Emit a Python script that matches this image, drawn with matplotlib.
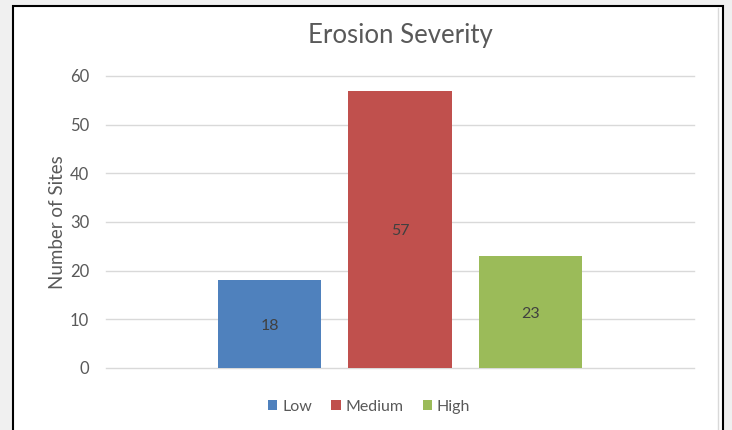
import matplotlib.pyplot as plt
from matplotlib.patches import Rectangle, Patch
from matplotlib.lines import Line2D

categories = ['Low', 'Medium', 'High']
sites = [18, 57, 23]
colors = ['#4F81BD', '#C0504D', '#9BBB59']
yticks = [0, 10, 20, 30, 40, 50, 60]

plt.rcParams['font.family'] = ['Lato', 'DejaVu Sans']

fig = plt.figure(figsize=(7.32, 4.30), dpi=100)
fig.patch.set_facecolor('#F0F0F0')

# chart area (white box with dark border, as in the spreadsheet screenshot)
fig.add_artist(Rectangle((13 / 732, -0.01), (723 - 13) / 732, 1 - 6 / 430 + 0.01,
                         transform=fig.transFigure, facecolor='white',
                         edgecolor='black', linewidth=1.5, zorder=0))
fig.add_artist(Line2D([718 / 732, 718 / 732], [0, 1 - 8 / 430],
                      transform=fig.transFigure, color='#D9D9D9', lw=1, zorder=1))

ax = fig.add_axes([106 / 732, 1 - 368 / 430, 588 / 732, 292 / 430])
ax.set_facecolor('none')

x = range(len(categories))
bars = ax.bar(x, sites, width=0.79, color=colors, zorder=3)
for b, v in zip(bars, sites):
    ax.text(b.get_x() + b.get_width() / 2, v / 2, str(v), ha='center',
            va='center_baseline', fontsize=11.5, color='#404040', zorder=4)

ax.set_xlim(-1.253, 3.253)
ax.set_ylim(0, 60)
ax.set_yticks(yticks)
ax.set_xticks([])
ax.tick_params(axis='y', length=0, pad=12, labelsize=12, labelcolor='#595959')
for s in ax.spines.values():
    s.set_visible(False)
ax.yaxis.grid(True, color='#D9D9D9', linewidth=1, zorder=0)
for gl in ax.get_ygridlines():
    gl.set_clip_on(False)

ax.set_ylabel('Number of Sites', fontsize=13.5, color='#595959', labelpad=3)
fig.text(400 / 732, 1 - 36 / 430, 'Erosion Severity', ha='center', va='center',
         fontsize=18.5, color='#595959')

handles = [Patch(facecolor=c, label=l) for c, l in zip(colors, categories)]
fig.legend(handles=handles, loc='center', bbox_to_anchor=(369 / 732, 1 - 407 / 430),
           ncol=3, frameon=False, fontsize=11.5, labelcolor='#595959',
           handlelength=0.6, handleheight=0.6, handletextpad=0.3, columnspacing=1.2)

fig.savefig('out.png', dpi=100, facecolor=fig.get_facecolor())
